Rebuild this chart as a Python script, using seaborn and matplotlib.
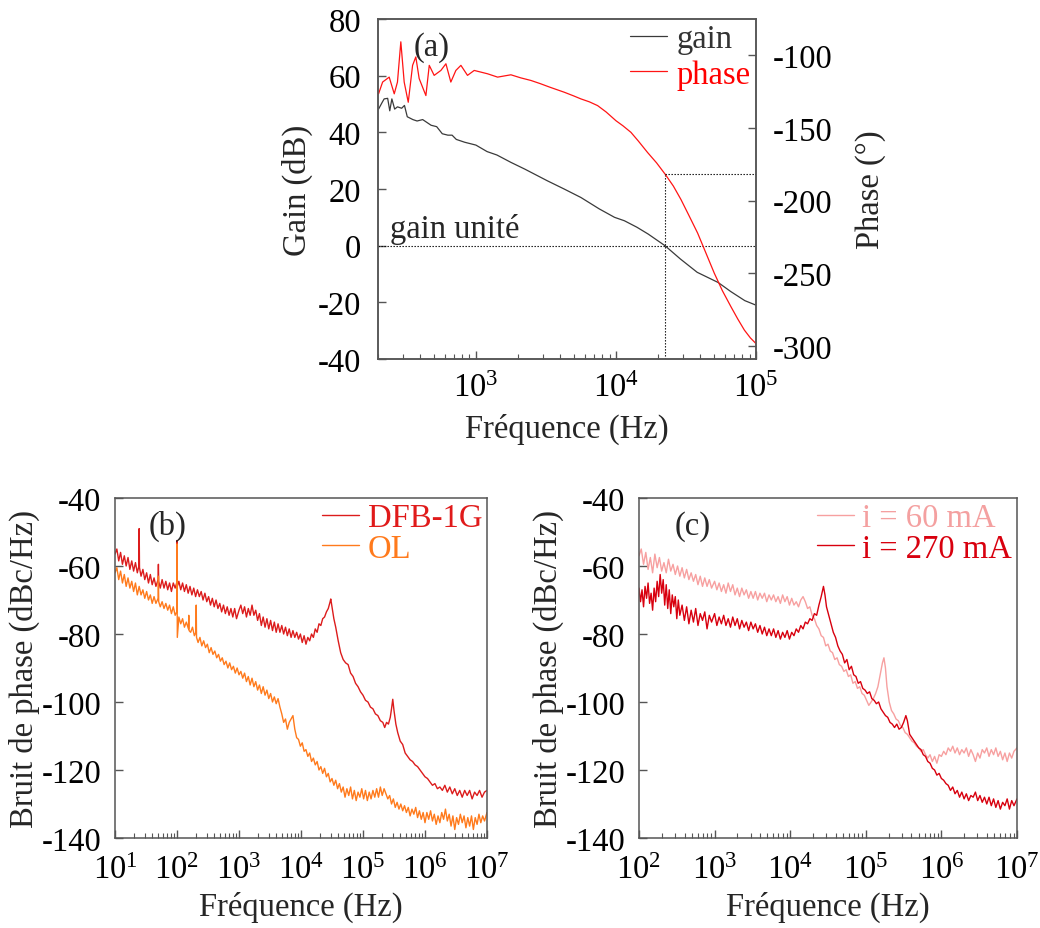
import numpy as np
import pandas as pd
import matplotlib
matplotlib.use("Agg")
import matplotlib.pyplot as plt
from matplotlib.ticker import LogLocator, NullFormatter
import seaborn as sns

# ---------------- data ----------------
# (a) Bode plot: log10(frequency), gain (dB), phase (deg)
gain_logf = [2.305, 2.33, 2.345, 2.37, 2.385, 2.40, 2.42, 2.44, 2.47, 2.49, 2.51, 2.55, 2.58, 2.62,
             2.65, 2.68, 2.72, 2.76, 2.80, 2.83, 2.86, 2.92, 3.00, 3.08, 3.15, 3.25, 3.35, 3.51,
             3.63, 3.75, 3.88, 3.99, 4.06, 4.15, 4.23, 4.35, 4.46, 4.58, 4.73, 4.82, 4.92, 5.00]
gain_db = [48.2, 50.5, 51.8, 52.0, 47.6, 51.8, 48.2, 49.0, 48.5, 49.5, 45.5, 44.5, 44.0, 44.5,
           43.5, 42.5, 42.0, 39.5, 39.0, 39.0, 37.5, 36.5, 35.5, 33.2, 32.0, 29.4, 27.0, 22.9,
           20.0, 17.0, 13.0, 10.0, 8.8, 6.5, 4.1, 0.0, -4.7, -9.4, -13.0, -16.2, -19.4, -21.0]
phase_logf = [2.305, 2.334, 2.381, 2.417, 2.440, 2.464, 2.488, 2.517, 2.548, 2.571, 2.595, 2.643,
              2.667, 2.702, 2.750, 2.786, 2.821, 2.857, 2.893, 2.940, 2.988, 3.083, 3.155, 3.25,
              3.32, 3.393, 3.46, 3.53, 3.631, 3.70, 3.75, 3.81, 3.869, 3.93, 4.0, 4.05, 4.107, 4.16,
              4.226, 4.29, 4.352, 4.41, 4.464, 4.52, 4.583, 4.64, 4.702, 4.76, 4.821, 4.87, 4.917,
              4.96, 5.0]
phase_deg = [-126.5, -118.4, -115.0, -126.5, -118.4, -90.7, -118.4, -132.3, -106.9, -101.1, -116.0,
             -127.7, -106.9, -113.8, -110.4, -105.8, -118.4, -110.4, -106.9, -113.8, -110.4, -112.7,
             -115.0, -113.4, -115.5, -117.3, -119.5, -122.0, -125.4, -128.0, -130.0, -132.0, -134.6,
             -139.0, -145.0, -148.5, -153.0, -159.0, -166.9, -174.0, -181.9, -190.0, -199.2, -210.0,
             -222.3, -235.5, -249.9, -262.0, -273.0, -281.5, -289.1, -294.5, -298.4]
unity_freq = 22400.0      # unity-gain frequency (Hz)
margin_phase = -182.0     # phase at unity gain (deg)
margin_gain = 25.3        # same level on the gain axis

# (b) phase noise: DFB-1G and OL
dfb_logf = [1.00, 1.03, 1.06, 1.09, 1.12, 1.15, 1.18, 1.21, 1.24, 1.27, 1.30, 1.33, 1.36, 1.385, 1.39, 1.395,
            1.42, 1.45, 1.48, 1.51, 1.54, 1.57, 1.60, 1.63, 1.66, 1.695, 1.70, 1.705, 1.73, 1.76, 1.79, 1.82,
            1.85, 1.88, 1.91, 1.94, 1.97, 1.995, 2.00, 2.005, 2.03, 2.06, 2.09, 2.12, 2.15, 2.18, 2.21, 2.24,
            2.27, 2.30, 2.33, 2.36, 2.39, 2.42, 2.45, 2.48, 2.51, 2.54, 2.57, 2.60, 2.63, 2.66, 2.69, 2.72,
            2.75, 2.78, 2.81, 2.84, 2.87, 2.90, 2.93, 2.96, 3.00, 3.03, 3.06, 3.09, 3.12, 3.15, 3.18, 3.21,
            3.24, 3.27, 3.30, 3.33, 3.36, 3.39, 3.42, 3.45, 3.48, 3.51, 3.54, 3.57, 3.60, 3.63, 3.66, 3.69,
            3.72, 3.75, 3.78, 3.81, 3.84, 3.87, 3.90, 3.93, 3.96, 3.99, 4.02, 4.05, 4.08, 4.11, 4.14, 4.17,
            4.20, 4.23, 4.26, 4.29, 4.32, 4.35, 4.38, 4.41, 4.44, 4.47, 4.48, 4.50, 4.53, 4.56, 4.60, 4.64,
            4.68, 4.72, 4.76, 4.80, 4.84, 4.88, 4.92, 4.96, 5.00, 5.04, 5.08, 5.12, 5.16, 5.20, 5.24, 5.28,
            5.32, 5.35, 5.38, 5.41, 5.44, 5.46, 5.48, 5.50, 5.53, 5.56, 5.60, 5.64, 5.68, 5.72, 5.76, 5.80,
            5.84, 5.88, 5.92, 5.96, 6.00, 6.04, 6.08, 6.12, 6.16, 6.20, 6.24, 6.28, 6.32, 6.36, 6.40, 6.44,
            6.48, 6.52, 6.56, 6.60, 6.64, 6.68, 6.72, 6.76, 6.80, 6.84, 6.88, 6.92, 6.96, 7.00]
dfb_db = [-56.5, -55.0, -58.5, -56.0, -59.5, -57.0, -60.0, -57.5, -61.0, -58.5, -61.5, -59.0, -62.0, -60.0, -49.0, -60.5,
          -63.0, -61.0, -64.0, -62.0, -65.0, -62.5, -65.5, -63.5, -66.0, -64.0, -59.5, -64.5, -66.5, -64.0, -66.5, -64.5,
          -67.0, -65.0, -67.5, -65.0, -66.5, -65.0, -52.5, -66.0, -64.5, -67.0, -65.0, -67.5, -65.5, -68.0, -66.0, -68.5,
          -66.5, -69.0, -67.0, -69.0, -67.5, -70.0, -68.0, -70.5, -69.0, -71.5, -69.5, -72.0, -70.0, -72.5, -71.0, -73.5,
          -71.5, -74.0, -72.0, -74.5, -72.5, -75.0, -72.5, -75.5, -73.0, -71.5, -74.0, -72.0, -75.0, -72.5, -74.5, -71.5,
          -74.5, -73.0, -76.0, -74.0, -77.5, -75.0, -78.0, -75.5, -78.5, -76.0, -79.0, -76.5, -79.5, -77.0, -79.5, -77.5,
          -80.0, -78.0, -80.5, -78.5, -81.0, -79.0, -81.0, -79.5, -81.5, -80.0, -82.5, -80.5, -83.0, -81.0, -82.0, -80.0,
          -81.0, -78.5, -79.5, -77.0, -77.5, -75.5, -75.0, -73.5, -72.5, -70.5, -69.7, -72.0, -75.5, -78.0, -82.0, -85.5,
          -87.5, -88.5, -89.0, -91.5, -92.5, -94.5, -95.5, -97.0, -98.0, -99.5, -100.0, -101.5, -102.0, -103.5, -104.0, -105.5,
          -106.0, -107.5, -106.0, -106.5, -104.5, -102.0, -99.2, -102.5, -106.5, -109.0, -111.5, -112.5, -115.0, -116.0, -117.0, -117.5,
          -118.5, -119.0, -120.0, -121.0, -122.0, -122.5, -123.5, -124.5, -124.0, -125.5, -125.0, -126.0, -124.5, -126.5, -125.0, -127.0,
          -125.5, -127.5, -126.0, -128.0, -126.0, -127.5, -126.0, -128.5, -126.5, -127.5, -126.0, -128.0, -126.5, -126.0]

ol_logf = [1.00, 1.03, 1.06, 1.09, 1.12, 1.15, 1.18, 1.21, 1.24, 1.27, 1.30, 1.33, 1.36, 1.39, 1.42, 1.45,
           1.48, 1.51, 1.54, 1.57, 1.60, 1.63, 1.66, 1.695, 1.70, 1.705, 1.73, 1.76, 1.79, 1.82, 1.85, 1.88,
           1.91, 1.94, 1.97, 1.995, 2.00, 2.005, 2.03, 2.06, 2.09, 2.12, 2.15, 2.185, 2.19, 2.195, 2.22, 2.25,
           2.28, 2.305, 2.31, 2.315, 2.34, 2.37, 2.40, 2.43, 2.46, 2.49, 2.52, 2.55, 2.58, 2.61, 2.64, 2.67,
           2.70, 2.73, 2.76, 2.79, 2.82, 2.85, 2.88, 2.91, 2.94, 2.97, 3.00, 3.03, 3.06, 3.09, 3.12, 3.15,
           3.18, 3.21, 3.24, 3.27, 3.30, 3.33, 3.36, 3.39, 3.42, 3.45, 3.48, 3.51, 3.54, 3.57, 3.60, 3.63,
           3.66, 3.69, 3.72, 3.75, 3.78, 3.81, 3.84, 3.87, 3.90, 3.93, 3.96, 3.99, 4.02, 4.05, 4.08, 4.11,
           4.14, 4.17, 4.20, 4.23, 4.26, 4.29, 4.32, 4.35, 4.38, 4.41, 4.44, 4.47, 4.50, 4.53, 4.56, 4.59,
           4.62, 4.65, 4.68, 4.71, 4.74, 4.77, 4.80, 4.83, 4.86, 4.89, 4.92, 4.95, 4.98, 5.01, 5.04, 5.07,
           5.10, 5.13, 5.16, 5.19, 5.22, 5.25, 5.28, 5.31, 5.34, 5.37, 5.40, 5.43, 5.46, 5.49, 5.52, 5.55,
           5.58, 5.61, 5.64, 5.67, 5.70, 5.73, 5.76, 5.79, 5.82, 5.85, 5.88, 5.91, 5.94, 5.97, 6.00, 6.03,
           6.06, 6.09, 6.12, 6.15, 6.18, 6.21, 6.24, 6.27, 6.30, 6.33, 6.36, 6.39, 6.42, 6.45, 6.48, 6.51,
           6.54, 6.57, 6.60, 6.63, 6.66, 6.69, 6.72, 6.75, 6.78, 6.81, 6.84, 6.87, 6.90, 6.93, 6.96, 7.00]
ol_db = [-62.0, -60.5, -64.0, -61.5, -65.0, -62.5, -66.0, -63.5, -66.5, -64.5, -67.5, -65.0, -68.5, -66.0, -68.5, -67.0,
         -69.5, -67.5, -70.0, -68.5, -71.0, -69.0, -71.0, -69.5, -63.0, -70.5, -72.0, -70.5, -72.5, -71.0, -73.0, -71.5,
         -74.0, -72.0, -74.5, -73.5, -53.5, -81.0, -75.0, -77.0, -75.5, -78.0, -76.5, -78.5, -74.5, -79.0, -79.5, -78.0,
         -80.5, -79.5, -71.5, -81.0, -82.5, -81.0, -83.5, -82.0, -84.0, -83.0, -85.5, -84.0, -86.0, -85.0, -87.0, -86.0,
         -88.0, -87.0, -89.0, -88.0, -90.0, -88.5, -90.5, -89.5, -91.5, -90.0, -92.0, -91.0, -93.0, -91.5, -94.0, -92.5,
         -95.0, -93.0, -95.5, -94.0, -96.5, -95.0, -97.5, -95.5, -98.0, -96.5, -99.0, -97.5, -100.0, -98.5, -100.5, -99.0,
         -101.5, -103.5, -106.0, -105.0, -108.0, -106.0, -105.0, -104.0, -108.0, -110.5, -111.0, -113.0, -112.0, -114.5, -114.0, -116.0,
         -115.0, -117.5, -116.5, -118.5, -117.5, -120.0, -119.0, -121.0, -119.5, -122.0, -121.0, -123.5, -122.5, -124.5, -123.0, -125.5,
         -124.0, -126.5, -125.0, -128.0, -125.5, -127.5, -125.0, -128.5, -126.0, -129.0, -126.5, -128.0, -125.5, -128.5, -126.0, -129.0,
         -126.5, -128.5, -126.0, -128.0, -125.5, -128.0, -125.0, -127.5, -125.5, -127.0, -128.5, -127.5, -130.0, -128.5, -131.0, -129.5,
         -131.5, -130.0, -132.0, -130.5, -132.5, -131.0, -133.5, -131.5, -133.0, -131.0, -134.0, -132.0, -134.5, -132.5, -135.5, -132.5,
         -134.5, -132.0, -135.0, -133.0, -136.0, -133.5, -135.5, -132.5, -134.5, -131.5, -135.0, -133.0, -136.5, -133.5, -137.5, -134.0,
         -136.0, -133.0, -135.5, -133.5, -137.0, -134.0, -136.5, -133.5, -137.5, -134.0, -136.0, -133.0, -135.5, -133.5, -135.0, -132.5]

# (c) phase noise at two currents
i60_logf = [2.00, 2.03, 2.06, 2.09, 2.12, 2.15, 2.18, 2.21, 2.24, 2.27, 2.30, 2.33, 2.36, 2.39, 2.42, 2.45,
            2.48, 2.51, 2.54, 2.57, 2.60, 2.63, 2.66, 2.69, 2.72, 2.75, 2.78, 2.81, 2.84, 2.87, 2.90, 2.93,
            2.96, 3.00, 3.03, 3.06, 3.09, 3.12, 3.15, 3.18, 3.21, 3.24, 3.27, 3.30, 3.33, 3.36, 3.39, 3.42,
            3.45, 3.48, 3.51, 3.54, 3.57, 3.60, 3.63, 3.66, 3.69, 3.72, 3.75, 3.78, 3.81, 3.84, 3.87, 3.90,
            3.93, 3.96, 3.99, 4.02, 4.05, 4.08, 4.11, 4.14, 4.17, 4.20, 4.23, 4.26, 4.29, 4.32, 4.35, 4.38,
            4.41, 4.44, 4.47, 4.50, 4.53, 4.56, 4.59, 4.62, 4.65, 4.68, 4.71, 4.74, 4.77, 4.80, 4.83, 4.86,
            4.89, 4.92, 4.95, 4.98, 5.01, 5.04, 5.07, 5.10, 5.13, 5.16, 5.19, 5.22, 5.24, 5.26, 5.28, 5.31,
            5.34, 5.37, 5.40, 5.43, 5.46, 5.49, 5.52, 5.55, 5.58, 5.61, 5.64, 5.67, 5.70, 5.73, 5.76, 5.79,
            5.82, 5.85, 5.88, 5.91, 5.94, 5.97, 6.00, 6.03, 6.06, 6.09, 6.12, 6.15, 6.18, 6.21, 6.24, 6.27,
            6.30, 6.33, 6.36, 6.39, 6.42, 6.45, 6.48, 6.51, 6.54, 6.57, 6.60, 6.63, 6.66, 6.69, 6.72, 6.75,
            6.78, 6.81, 6.84, 6.87, 6.90, 6.93, 6.96, 7.00]
i60_db = [-57.0, -55.0, -59.5, -56.0, -61.0, -57.5, -62.0, -56.5, -60.5, -57.5, -61.5, -59.0, -62.0, -58.0, -61.5, -59.5,
          -62.5, -60.0, -63.0, -60.5, -63.5, -61.0, -64.0, -62.0, -64.5, -62.5, -65.5, -63.0, -66.0, -63.5, -66.0, -64.0,
          -66.5, -64.5, -67.0, -65.0, -67.5, -65.5, -68.0, -65.0, -67.5, -65.5, -68.5, -66.5, -69.0, -66.5, -68.5, -67.0,
          -69.5, -67.5, -69.5, -67.5, -70.0, -68.0, -69.5, -68.0, -70.5, -68.5, -70.0, -68.5, -70.5, -69.0, -71.0, -68.5,
          -70.5, -69.0, -71.5, -69.5, -71.5, -70.5, -72.0, -70.0, -69.0, -70.5, -72.5, -72.0, -74.5, -75.5, -77.5, -78.5,
          -80.5, -81.0, -83.5, -83.0, -85.0, -85.5, -87.5, -87.0, -89.0, -89.5, -91.0, -90.5, -92.5, -92.0, -94.5, -94.0,
          -96.0, -95.5, -97.5, -98.0, -99.5, -101.0, -100.0, -99.0, -97.5, -95.5, -92.0, -88.5, -87.0, -90.0, -95.5, -100.0,
          -102.5, -103.5, -105.0, -105.5, -107.0, -107.5, -109.0, -109.5, -110.5, -111.5, -112.0, -113.0, -113.5, -114.5, -114.0, -115.5,
          -116.5, -115.5, -117.5, -116.0, -118.0, -115.5, -116.0, -114.5, -115.5, -113.5, -114.5, -113.0, -115.0, -113.5, -115.5, -114.0,
          -115.0, -113.5, -116.0, -114.0, -115.5, -117.5, -115.0, -116.5, -114.0, -115.0, -113.5, -116.0, -114.0, -115.5, -113.5, -116.0,
          -114.5, -117.0, -115.0, -117.5, -115.0, -116.5, -114.5, -113.5]

i270_logf = [2.00, 2.02, 2.04, 2.06, 2.08, 2.10, 2.12, 2.14, 2.16, 2.18, 2.20, 2.22, 2.24, 2.26, 2.28, 2.30,
             2.32, 2.34, 2.36, 2.38, 2.40, 2.42, 2.44, 2.46, 2.48, 2.50, 2.52, 2.54, 2.57, 2.60, 2.63, 2.66,
             2.69, 2.72, 2.75, 2.78, 2.81, 2.84, 2.87, 2.90, 2.93, 2.96, 3.00, 3.03, 3.06, 3.09, 3.12, 3.15,
             3.18, 3.21, 3.24, 3.27, 3.30, 3.33, 3.36, 3.39, 3.42, 3.45, 3.48, 3.51, 3.54, 3.57, 3.60, 3.63,
             3.66, 3.69, 3.72, 3.75, 3.78, 3.81, 3.84, 3.87, 3.90, 3.93, 3.96, 3.99, 4.02, 4.05, 4.08, 4.11,
             4.14, 4.17, 4.20, 4.23, 4.26, 4.29, 4.32, 4.35, 4.38, 4.41, 4.44, 4.46, 4.48, 4.51, 4.54, 4.57,
             4.60, 4.63, 4.66, 4.69, 4.72, 4.75, 4.78, 4.81, 4.84, 4.87, 4.90, 4.93, 4.96, 4.99, 5.02, 5.05,
             5.08, 5.11, 5.14, 5.17, 5.20, 5.23, 5.26, 5.29, 5.32, 5.35, 5.38, 5.41, 5.44, 5.47, 5.50, 5.53,
             5.55, 5.58, 5.61, 5.64, 5.67, 5.70, 5.73, 5.76, 5.79, 5.82, 5.85, 5.88, 5.91, 5.94, 5.97, 6.00,
             6.03, 6.06, 6.09, 6.12, 6.15, 6.18, 6.21, 6.24, 6.27, 6.30, 6.33, 6.36, 6.39, 6.42, 6.45, 6.48,
             6.51, 6.54, 6.57, 6.60, 6.63, 6.66, 6.69, 6.72, 6.75, 6.78, 6.81, 6.84, 6.87, 6.90, 6.93, 6.96, 7.00]
i270_db = [-66.5, -70.5, -67.0, -72.0, -66.0, -69.5, -65.0, -71.0, -68.0, -73.0, -66.5, -70.5, -64.5, -69.0, -62.5, -68.0,
           -64.0, -71.5, -65.5, -72.5, -67.0, -74.0, -68.5, -72.0, -69.0, -75.5, -70.0, -74.5, -71.5, -76.0, -72.0, -77.0,
           -73.0, -76.5, -72.5, -77.5, -74.0, -76.0, -73.5, -78.5, -74.5, -76.5, -74.0, -77.5, -75.0, -77.0, -74.5, -77.5,
           -75.5, -78.0, -75.0, -77.5, -75.5, -78.5, -76.0, -78.0, -76.5, -79.0, -76.5, -78.5, -77.0, -79.5, -77.5, -80.0,
           -78.0, -80.5, -78.5, -80.5, -78.5, -81.0, -79.0, -81.5, -79.5, -81.0, -79.0, -81.5, -79.5, -80.5, -78.5, -79.5,
           -77.5, -78.5, -76.5, -77.0, -75.5, -76.0, -74.0, -74.5, -71.5, -69.0, -66.0, -68.5, -72.0, -74.5, -77.0, -79.5,
           -81.0, -83.5, -85.0, -86.0, -88.5, -87.5, -90.5, -89.5, -92.0, -92.5, -94.5, -94.0, -96.0, -96.5, -97.5, -97.0,
           -99.0, -99.5, -100.5, -100.0, -102.0, -103.0, -104.0, -104.5, -106.0, -106.5, -107.5, -106.5, -108.0, -107.5, -106.0, -104.0,
           -105.5, -109.5, -110.5, -111.5, -112.5, -113.5, -114.0, -115.5, -116.0, -117.5, -118.0, -119.5, -120.0, -121.5, -121.0, -122.5,
           -123.0, -124.0, -124.5, -126.0, -125.0, -127.0, -126.0, -128.0, -126.5, -128.5, -127.0, -129.0, -127.5, -128.0, -126.5, -129.0,
           -127.5, -129.5, -128.0, -130.0, -128.0, -130.5, -128.5, -131.0, -129.0, -131.5, -129.5, -130.5, -128.5, -131.5, -129.0, -130.5, -128.5]

gain_yticks = [-40, -20, 0, 20, 40, 60, 80]
phase_yticks = [-300, -250, -200, -150, -100]
noise_yticks = [-140, -120, -100, -80, -60, -40]

# ---------------- style ----------------
sns.set_theme(style="white")
plt.rcParams["font.family"] = ["Liberation Serif", "DejaVu Serif"]
plt.rcParams["mathtext.fontset"] = "custom"
plt.rcParams["mathtext.rm"] = "Liberation Serif"
plt.rcParams["mathtext.it"] = "Liberation Serif:italic"
plt.rcParams["axes.unicode_minus"] = False
FS = 23.5
SPINE = "#555555"

fig = plt.figure(figsize=(10.40, 9.29), dpi=100)
W, H = 1040.0, 929.0


def add_ax(x0, y0, x1, y1):
    return fig.add_axes([x0 / W, 1 - y1 / H, (x1 - x0) / W, (y1 - y0) / H])


def style_ax(ax, left=True, right=False):
    for s in ax.spines.values():
        s.set_color(SPINE)
        s.set_linewidth(1.1)
    ax.tick_params(which="both", direction="in", top=False, right=right, left=left,
                   bottom=True, colors=SPINE, labelcolor="black", labelsize=FS)
    ax.tick_params(which="major", length=6, width=1.0, pad=8)
    ax.tick_params(which="minor", length=3.5, width=0.8)
    ax.tick_params(axis="x", which="major", pad=12)


def log_ticks(ax):
    ax.xaxis.set_major_locator(LogLocator(base=10, numticks=30))
    ax.xaxis.set_minor_locator(LogLocator(base=10, subs=np.arange(2, 10), numticks=200))
    ax.xaxis.set_minor_formatter(NullFormatter())


def line(ax, logf, vals, color, lw=1.0):
    df = pd.DataFrame({"f": np.power(10.0, np.asarray(logf)), "v": vals})
    sns.lineplot(data=df, x="f", y="v", ax=ax, color=color, lw=lw, estimator=None,
                 sort=False, legend=False)


# ---------- (a) ----------
axa = add_ax(378, 20, 756, 360)
axb2 = axa.twinx()
line(axa, gain_logf, gain_db, "#3a3a3a", lw=0.9)
line(axb2, phase_logf, phase_deg, "#ff1414", lw=0.9)
axa.set_xscale("log")
axa.set_xlim(200, 1e5)
axa.set_ylim(-40, 80)
axb2.set_ylim(-309, -75)
axa.set_yticks(gain_yticks)
axb2.set_yticks(phase_yticks)
log_ticks(axa)
style_ax(axa)
style_ax(axb2, left=False, right=True)
axb2.tick_params(which="both", bottom=False)
axb2.tick_params(axis="y", which="major", pad=12)
axa.tick_params(axis="y", which="major", pad=12)
axa.tick_params(axis="x", which="major", pad=10)

dot = dict(color="black", lw=0.8, ls=(0, (1.2, 1.5)))
axa.plot([200, 1e5], [0, 0], **dot)
axa.plot([unity_freq, unity_freq], [-40, margin_gain], **dot)
axb2.plot([unity_freq, 1e5], [margin_phase, margin_phase], **dot)
axa.text(243, 3.0, "gain unité", fontsize=FS, ha="left", va="baseline")
axa.text(0.143, 0.92, "(a)", transform=axa.transAxes, fontsize=FS, ha="center", va="center")

axa.set_xlabel("Fréquence (Hz)", fontsize=FS)
axa.set_ylabel("Gain (dB)", fontsize=FS)
axb2.set_ylabel("Phase (°)", fontsize=FS)
for lab in (axa.xaxis.label, axa.yaxis.label, axb2.yaxis.label):
    lab.set_va("center")
    lab.set_ha("center")
axa.xaxis.set_label_coords(0.5, -0.205)
axa.yaxis.set_label_coords(-0.212, 0.5)
axb2.yaxis.set_label_coords(1.302, 0.5)

ha = [axa.lines[0], axb2.lines[0]]
lega = axb2.legend(ha, ["gain", "phase"], loc="upper right", bbox_to_anchor=(1.0, 1.0),
                   frameon=False, fontsize=FS, handlelength=1.15, handletextpad=0.3,
                   labelspacing=0.15, borderaxespad=0.0, borderpad=0.15)
for t, c in zip(lega.get_texts(), ["#333333", "#ff0000"]):
    t.set_color(c)

# ---------- (b) ----------
axb = add_ax(115, 499, 487, 839)
line(axb, dfb_logf, dfb_db, "#dc1c1c")
line(axb, ol_logf, ol_db, "#ff7a1c")
axb.set_xscale("log")
axb.set_xlim(10, 1e7)
axb.set_ylim(-140, -40)
axb.set_yticks(noise_yticks)
log_ticks(axb)
style_ax(axb)
axb.tick_params(axis="y", which="major", pad=10)
axb.set_xlabel("Fréquence (Hz)", fontsize=FS)
axb.set_ylabel("Bruit de phase (dBc/Hz)", fontsize=FS)
axb.xaxis.label.set_va("center")
axb.yaxis.label.set_va("center")
axb.xaxis.set_label_coords(0.5, -0.2)
axb.yaxis.set_label_coords(-0.243, 0.5)
axb.text(0.142, 0.918, "(b)", transform=axb.transAxes, fontsize=FS, ha="center", va="center")
legb = axb.legend(axb.lines[:2], ["DFB-1G", "OL"], loc="upper right", bbox_to_anchor=(1.0, 1.0),
                  frameon=False, fontsize=FS, handlelength=1.15, handletextpad=0.25,
                  labelspacing=0.0, borderaxespad=0.0, borderpad=0.15)
for t, c in zip(legb.get_texts(), ["#e01a1a", "#ff7a1c"]):
    t.set_color(c)

# ---------- (c) ----------
axc = add_ax(639, 499, 1017, 839)
line(axc, i60_logf, i60_db, "#f7a0a0")
line(axc, i270_logf, i270_db, "#d8000e")
axc.set_xscale("log")
axc.set_xlim(100, 1e7)
axc.set_ylim(-140, -40)
axc.set_yticks(noise_yticks)
log_ticks(axc)
style_ax(axc)
axc.tick_params(axis="y", which="major", pad=10)
axc.set_xlabel("Fréquence (Hz)", fontsize=FS)
axc.set_ylabel("Bruit de phase (dBc/Hz)", fontsize=FS)
axc.xaxis.label.set_va("center")
axc.yaxis.label.set_va("center")
axc.xaxis.set_label_coords(0.5, -0.2)
axc.yaxis.set_label_coords(-0.241, 0.5)
axc.text(0.143, 0.918, "(c)", transform=axc.transAxes, fontsize=FS, ha="center", va="center")
legc = axc.legend(axc.lines[:2], ["i = 60 mA", "i = 270 mA"], loc="upper right",
                  bbox_to_anchor=(1.0, 1.0), frameon=False, fontsize=FS, handlelength=1.15,
                  handletextpad=0.25, labelspacing=0.0, borderaxespad=0.0, borderpad=0.15)
for t, c in zip(legc.get_texts(), ["#f4a0a0", "#d8000e"]):
    t.set_color(c)

fig.savefig("out.png", dpi=100, facecolor="white")
